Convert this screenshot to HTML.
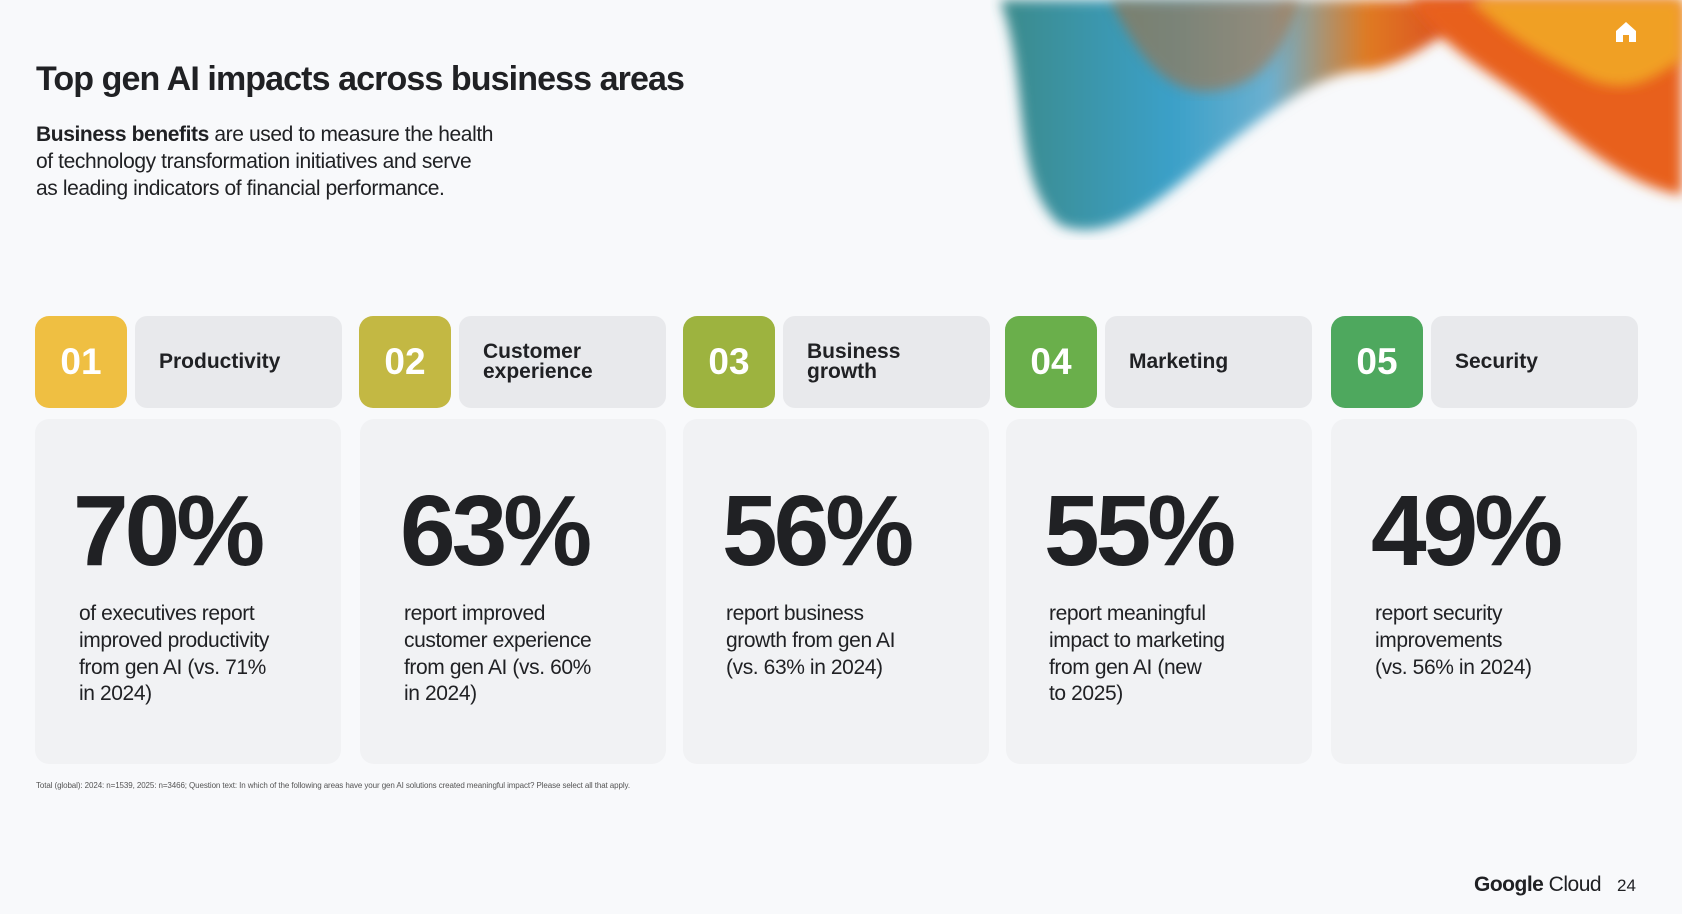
<!DOCTYPE html>
<html><head><meta charset="utf-8"><style>
*{margin:0;padding:0;box-sizing:border-box}
body{width:1682px;height:914px;background:#f8f9fb;font-family:"Liberation Sans",sans-serif;color:#202124;position:relative;overflow:hidden}
.t{position:absolute;left:36px;top:60px;font-size:34px;font-weight:bold;letter-spacing:-0.9px}
.s{position:absolute;left:36px;top:121px;font-size:21px;line-height:27px;width:560px;letter-spacing:-0.4px}
.b{position:absolute;top:316px;width:92px;height:92px;border-radius:14px;color:#fff;font-size:37px;font-weight:bold;display:flex;align-items:center;justify-content:center}
.l{position:absolute;top:316px;width:207px;height:92px;border-radius:12px;background:#e8e9ec;font-size:21px;font-weight:bold;display:flex;align-items:center;padding-left:24px;line-height:20px}
.c{position:absolute;top:419px;width:306px;height:345px;border-radius:14px;background:#f1f2f4}
.n{position:absolute;top:474px;font-size:100px;font-weight:bold;letter-spacing:-4px}
.d{position:absolute;top:601px;font-size:21px;line-height:26.8px;width:260px;letter-spacing:-0.4px;white-space:nowrap}
.f{position:absolute;left:36px;top:781px;font-size:8px;color:#555;letter-spacing:-0.1px}
</style></head><body>
<svg style="position:absolute;left:990px;top:0" width="692" height="240">
<defs>
<linearGradient id="g1" x1="0" y1="0" x2="1" y2="0"><stop offset="0" stop-color="#3a8a8a"/><stop offset=".35" stop-color="#3aa0c8"/><stop offset=".55" stop-color="#6bb0d0"/><stop offset=".75" stop-color="#e07a20"/><stop offset="1" stop-color="#d83a20"/></linearGradient>
<filter id="bl"><feGaussianBlur stdDeviation="6"/></filter>
</defs>
<path d="M10 0 C40 80 20 180 70 225 C120 245 170 200 230 150 C300 95 340 70 380 70 C430 60 470 20 500 0 Z" fill="url(#g1)" filter="url(#bl)"/>
<path d="M120 0 C150 60 180 100 230 90 C290 80 300 20 310 0Z" fill="#b9672a" opacity=".5" filter="url(#bl)"/>
<path d="M420 0 C460 60 520 80 560 120 C620 170 660 190 692 195 L692 0 Z" fill="#e8601c" filter="url(#bl)"/>
<path d="M480 0 C520 40 560 60 600 80 C640 95 660 80 692 60 L692 0Z" fill="#f3b026" opacity=".8" filter="url(#bl)"/>
</svg>
<svg style="position:absolute;left:1614px;top:20px" width="24" height="24"><path d="M2 11 L12 2 L22 11 V22 H15 V15 H9 V22 H2Z" fill="#fff"/></svg>
<div class="t">Top gen AI impacts across business areas</div>
<div class="s"><b>Business benefits</b> are used to measure the health<br>of technology transformation initiatives and serve<br>as leading indicators of financial performance.</div>

<div class="b" style="left:35px;background:#efbf42">01</div><div class="l" style="left:135px">Productivity</div>
<div class="c" style="left:35px"></div><div class="n" style="left:73px">70%</div>
<div class="d" style="left:79px">of executives report<br>improved productivity<br>from gen AI (vs. 71%<br>in 2024)</div>

<div class="b" style="left:359px;background:#c3b843">02</div><div class="l" style="left:459px">Customer<br>experience</div>
<div class="c" style="left:360px"></div><div class="n" style="left:400px">63%</div>
<div class="d" style="left:404px">report improved<br>customer experience<br>from gen AI (vs. 60%<br>in 2024)</div>

<div class="b" style="left:683px;background:#9db33f">03</div><div class="l" style="left:783px">Business<br>growth</div>
<div class="c" style="left:683px"></div><div class="n" style="left:722px">56%</div>
<div class="d" style="left:726px">report business<br>growth from gen AI<br>(vs. 63% in 2024)</div>

<div class="b" style="left:1005px;background:#6aaf4b">04</div><div class="l" style="left:1105px">Marketing</div>
<div class="c" style="left:1006px"></div><div class="n" style="left:1044px">55%</div>
<div class="d" style="left:1049px">report meaningful<br>impact to marketing<br>from gen AI (new<br>to 2025)</div>

<div class="b" style="left:1331px;background:#4ea85e">05</div><div class="l" style="left:1431px">Security</div>
<div class="c" style="left:1331px"></div><div class="n" style="left:1371px">49%</div>
<div class="d" style="left:1375px">report security<br>improvements<br>(vs. 56% in 2024)</div>

<div class="f">Total (global): 2024: n=1539, 2025: n=3466; Question text: In which of the following areas have your gen AI solutions created meaningful impact? Please select all that apply.</div>
<div style="position:absolute;left:1474px;top:873px;font-size:21px;letter-spacing:-0.5px"><span style="font-weight:bold">Google</span> Cloud</div>
<div style="position:absolute;left:1617px;top:876px;font-size:17px">24</div>
</body></html>
